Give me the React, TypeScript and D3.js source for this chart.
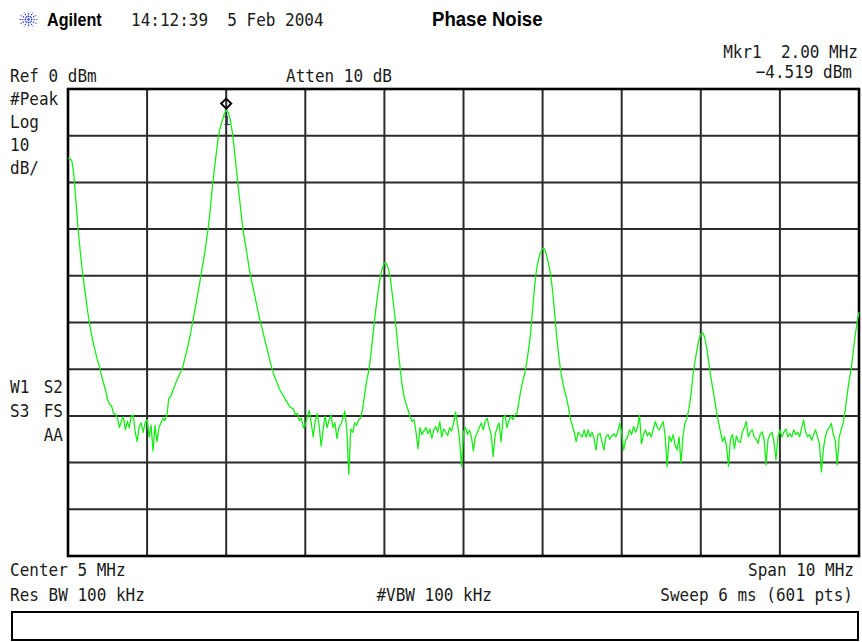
import React from "react";
import * as d3 from "d3";

// Sweep settings
const traceStartMHz = 0;
const traceStopMHz = 10;
const refLevelDbm = 0;
const dbPerDiv = 10;
const numDivs = 10;

// Trace amplitude (dBm), evenly spaced sweep points from start to stop
const traceDbm: number[] = [
  -14.8, -14.9, -15.5, -18.5, -24, -29.5, -34, -38, -41.5, -44.5, -47.8, -50.5, -52.8, -54.8, -56.5, -58.2, -59.5, -61.5, -63, -64.5, -66.5, -67.5, -67.8, -69.5, -69.6,
  -70.5, -72.5, -71, -70.2, -73, -71.2, -72.5, -70, -69.8, -73.5, -75.5, -72.3, -71.5, -73.5, -71.5, -70.8, -74.5, -72, -77.5, -72, -75.5, -72.5, -71.5, -70.5, -71,
  -69.8, -66.2, -65.8, -64.6, -63.5, -62.4, -61.5, -60.6, -59.6, -57.8, -56.2, -54.3, -52.3, -50, -47.7, -45.3, -43, -40.5, -38, -35.5, -32.5, -29.5, -25.5, -21, -17.2,
  -13.7, -10.3, -8.2, -6.8, -5.3, -4.5, -5.0, -6.5, -9.0, -12.5, -16.6, -20.6, -24.5, -28.4, -31.5, -34, -36.7, -39.3, -41.4, -43.4, -45.4, -47.4, -49.4, -51, -52.8,
  -54.5, -56.2, -58, -59.6, -61, -62.2, -63.2, -64.3, -65.1, -65.8, -66.5, -67.2, -68, -68.3, -68.5, -69.8, -69.5, -71, -70.5, -72.5, -72, -70.2, -68.8, -71.5, -74.5,
  -71.2, -69.5, -72, -76.5, -73, -70, -72.5, -71, -69.8, -72.5, -71.5, -74.8, -72.5, -71.8, -70.5, -69, -73, -82.5, -72.8, -73.5, -71.5, -72, -70.8, -70.5, -68.5,
  -65.5, -62.5, -60.5, -57.5, -53.5, -49.5, -46, -42.8, -40, -38.3, -37.2, -37.4, -38.5, -40.5, -44, -47.6, -51.5, -56, -60, -63.5, -66, -67.5, -68.8, -70.2, -71.2,
  -70.8, -73.5, -77, -72.5, -74, -73.2, -72.5, -73.8, -72.8, -74.8, -73, -72.3, -73.5, -71.2, -74.5, -72.8, -73.5, -74.2, -72.5, -73.2, -71.5, -69.2, -71.8, -75, -80.8,
  -73.5, -72.5, -74, -73, -74.5, -77.5, -74.5, -73.5, -72.5, -71.5, -73, -71, -70.5, -72.5, -74, -78.7, -74, -72.5, -71.5, -75.5, -70.5, -69.8, -72.5, -71, -70,
  -70.8, -69.8, -69.5, -67, -64.5, -62.5, -60.8, -58.5, -55.5, -52, -47, -42, -38.5, -36.3, -35, -34.1, -34.3, -35.5, -37.5, -39.5, -43, -47.5, -52.5, -56.5, -60,
  -62.5, -64.5, -66, -68, -70.5, -72, -73.5, -75.5, -73.5, -74, -74.5, -73, -74.6, -73, -74.5, -73.5, -74.8, -77.3, -74, -73.7, -75.5, -77.3, -74.5, -74, -75,
  -74.3, -73.8, -74.5, -73.5, -71.6, -73.5, -77.3, -75.2, -74.5, -73, -74, -72.3, -73.5, -72.5, -69.8, -76, -74, -73, -74.3, -73.5, -74.5, -72.8, -71.2, -72.5, -73,
  -72, -71.2, -74.5, -80.9, -74.3, -75.5, -74, -76.3, -77.3, -74.5, -80.2, -74.3, -71.5, -70.5, -68.5, -65.5, -61.5, -58.5, -56, -53.8, -52.5, -52.2, -53.2, -55.5, -58.5,
  -61.5, -64, -66.5, -69.2, -71.5, -73.5, -75.5, -74.5, -76.5, -80.8, -75, -74, -77, -74.3, -75.5, -75.7, -73.5, -72.5, -71.2, -74.5, -73.5, -73, -74.5, -75, -75.9,
  -74, -73.4, -75, -80.5, -75, -74, -73.5, -75.5, -79.4, -74.5, -73, -74.5, -73.5, -72.8, -74.5, -73.8, -74.5, -73, -74, -73.5, -74.5, -72.5, -70.9, -73.5, -74.5,
  -74, -75.2, -74, -73, -74.5, -76, -82, -77, -74.5, -73, -72.5, -71.6, -74, -75.2, -80.5, -74.5, -73, -71.5, -68.8, -65.5, -62.5, -60, -56.5, -53, -50,
  -47.8,
];

// Marker
const markerMHz = 2.0;
const markerDbm = -4.519;

// Annotation texts
const headerTime = "14:12:39  5 Feb 2004";
const headerTitle = "Phase Noise";
const leftLabels = ["#Peak", "Log", "10", "dB/"];
const statusLeft = ["W1", "S3", ""];
const statusRight = ["S2", "FS", "AA"];

const W = 862;
const H = 642;
const plot = { left: 68, right: 859, top: 89, bottom: 556 };
const MONO = "'DejaVu Sans Mono', monospace";
const SANS = "'Liberation Sans', Arial, sans-serif";

function T(props: {
  x: number; y: number; children: React.ReactNode; anchor?: string;
  size?: number; sx?: number; weight?: string; family?: string; fill?: string;
}) {
  const { x, y, children, anchor = "start", size = 18, sx = 0.89, weight = "normal", family = MONO, fill = "#1a1a1a" } = props;
  return (
    <text
      transform={`translate(${x},${y}) scale(${sx},1)`}
      textAnchor={anchor as any}
      fontFamily={family}
      fontSize={size}
      fontWeight={weight}
      fill={fill}
      style={{ whiteSpace: "pre" }}
    >
      {children}
    </text>
  );
}

export default function App() {
  const x = d3.scaleLinear().domain([traceStartMHz, traceStopMHz]).range([plot.left, plot.right]);
  const y = d3
    .scaleLinear()
    .domain([refLevelDbm - dbPerDiv * numDivs, refLevelDbm])
    .range([plot.bottom, plot.top]);
  const step = (traceStopMHz - traceStartMHz) / (traceDbm.length - 1);
  const line = d3
    .line<number>()
    .x((_, i) => x(traceStartMHz + i * step))
    .y((d) => y(d));

  const xGrid = d3.range(numDivs + 1).map((i) => traceStartMHz + (i * (traceStopMHz - traceStartMHz)) / numDivs);
  const yGrid = d3.range(numDivs + 1).map((i) => refLevelDbm - i * dbPerDiv);

  const mx = x(markerMHz);
  const my = y(markerDbm) - 6.5;

  const logoCx = 28.5;
  const logoCy = 19.5;
  const spokes = d3.range(12).map((i) => (i * Math.PI) / 6);

  return (
    <svg width={W} height={H} style={{ position: "absolute", left: 0, top: 0, background: "#fff" }}>
      <rect x={0} y={0} width={W} height={H} fill="#fff" />

      {/* Agilent logo */}
      <g stroke="#2a3bd8" strokeWidth={1.2}>
        {spokes.map((a, i) => (
          <line
            key={i}
            x1={logoCx + Math.cos(a) * 2.5}
            y1={logoCy + Math.sin(a) * 2.5}
            x2={logoCx + Math.cos(a) * 9}
            y2={logoCy + Math.sin(a) * 8}
            strokeDasharray="1.4,1.2"
          />
        ))}
        <circle cx={logoCx} cy={logoCy} r={1.2} fill="#2a3bd8" stroke="none" />
      </g>
      <T x={47} y={26} family={SANS} weight="bold" size={19} sx={0.85} fill="#000">Agilent</T>
      <T x={131} y={26}>{headerTime}</T>
      <T x={432} y={26} family={SANS} weight="bold" size={20} sx={0.93} fill="#000">{headerTitle}</T>

      <T x={858} y={57.5} anchor="end">{"Mkr1  2.00 MHz"}</T>
      <T x={852} y={77.5} anchor="end">{`\u2212${Math.abs(markerDbm).toFixed(3)} dBm`}</T>
      <T x={10} y={82}>{`Ref ${refLevelDbm} dBm`}</T>
      <T x={286} y={82}>Atten 10 dB</T>

      {leftLabels.map((s, i) => (
        <T key={s} x={10} y={105 + i * 23}>{s}</T>
      ))}
      {statusLeft.map((s, i) => (
        <T key={"l" + i} x={10} y={393 + i * 24}>{s}</T>
      ))}
      {statusRight.map((s, i) => (
        <T key={"r" + i} x={63} y={393 + i * 24} anchor="end">{s}</T>
      ))}

      {/* Grid */}
      <g stroke="#2b2b2b" strokeWidth={2}>
        {xGrid.map((f) => (
          <line key={"x" + f} x1={x(f)} x2={x(f)} y1={plot.top} y2={plot.bottom} />
        ))}
        {yGrid.map((d) => (
          <line key={"y" + d} x1={plot.left} x2={plot.right} y1={y(d)} y2={y(d)} />
        ))}
      </g>
      <rect
        x={plot.left}
        y={plot.top}
        width={plot.right - plot.left}
        height={plot.bottom - plot.top}
        fill="none"
        stroke="#000"
        strokeWidth={2.6}
      />

      {/* Trace */}
      <path d={line(traceDbm) || ""} fill="none" stroke="#16ee16" strokeWidth={1.3} strokeLinejoin="round" />

      {/* Marker */}
      <path
        d={`M${mx},${my - 5} L${mx + 5},${my} L${mx},${my + 5} L${mx - 5},${my} Z`}
        fill="none"
        stroke="#000"
        strokeWidth={2}
      />
      <text x={mx + 0.5} y={125} textAnchor="middle" fontFamily={MONO} fontSize={13} fill="#333">1</text>

      {/* Bottom annotations */}
      <T x={10} y={576}>{`Center ${(traceStartMHz + traceStopMHz) / 2} MHz`}</T>
      <T x={854} y={576} anchor="end">{`Span ${traceStopMHz - traceStartMHz} MHz`}</T>
      <T x={10} y={601}>Res BW 100 kHz</T>
      <T x={492} y={601} anchor="end">#VBW 100 kHz</T>
      <T x={853} y={601} anchor="end">Sweep 6 ms (601 pts)</T>

      <rect x={12} y={612} width={846} height={28} fill="none" stroke="#000" strokeWidth={2} />
    </svg>
  );
}
